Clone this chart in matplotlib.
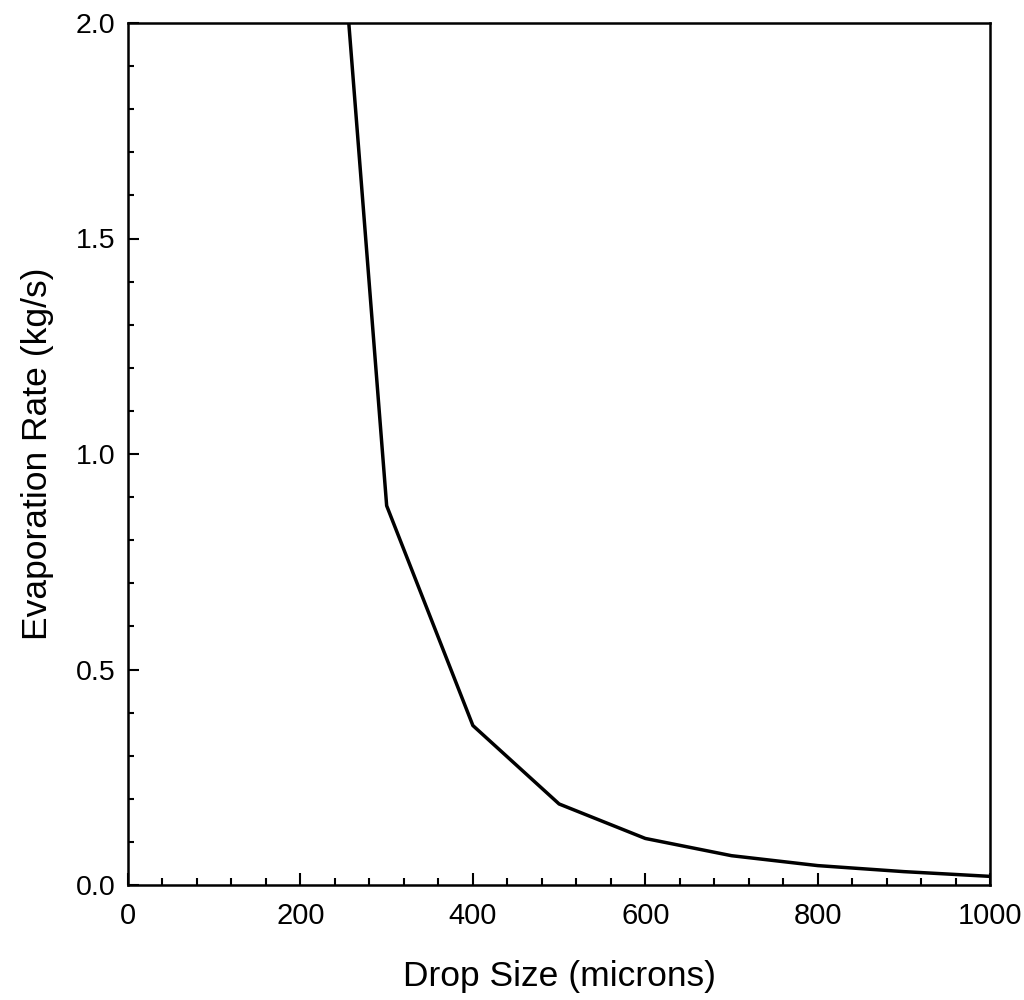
import matplotlib
matplotlib.use('Agg')
import matplotlib.pyplot as plt
from matplotlib.ticker import MultipleLocator

plt.rcParams['font.family'] = ['Liberation Sans', 'DejaVu Sans']

# values (200 micron point lies above the plot)
drop_size = [200, 300, 400, 500, 600, 700, 800, 900, 1000]
evap_rate = [3.43, 0.88, 0.37, 0.188, 0.108, 0.068, 0.045, 0.031, 0.020]

fig = plt.figure(figsize=(10.24, 10.0), dpi=100)
ax = fig.add_axes([0.125, 0.115, 0.842, 0.862])

ax.plot(drop_size, evap_rate, color='black', linewidth=2.5)

ax.set_xlim(0, 1000)
ax.set_ylim(0, 2.0)
ax.xaxis.set_major_locator(MultipleLocator(200))
ax.xaxis.set_minor_locator(MultipleLocator(40))
ax.yaxis.set_major_locator(MultipleLocator(0.5))
ax.yaxis.set_minor_locator(MultipleLocator(0.1))
ax.yaxis.set_major_formatter(matplotlib.ticker.FormatStrFormatter('%.1f'))

ax.tick_params(which='both', direction='in', top=False, right=False,
               width=1.5)
ax.tick_params(axis='x', which='major', length=9, pad=12, labelsize=21)
ax.tick_params(axis='x', which='minor', length=5)
ax.tick_params(axis='y', which='major', length=8, pad=9, labelsize=20.5)
ax.tick_params(axis='y', which='minor', length=4)
for s in ax.spines.values():
    s.set_linewidth(1.8)

ax.set_xlabel('Drop Size (microns)', fontsize=25.5, labelpad=22)
ax.set_ylabel('Evaporation Rate (kg/s)', fontsize=25.5, labelpad=16)

fig.savefig('out.png', dpi=100)
